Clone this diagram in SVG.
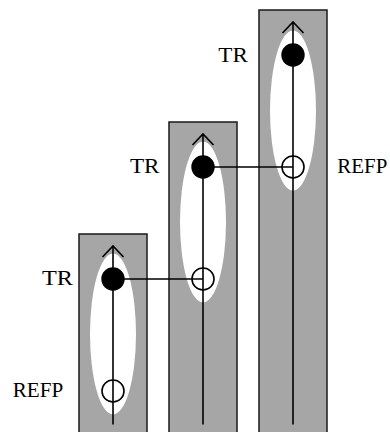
<svg xmlns="http://www.w3.org/2000/svg" width="390" height="432" viewBox="0 0 390 432">
<style>
.col{fill:#a6a6a6;stroke:#1a1a1a;stroke-width:1.5}
.ell{fill:#ffffff;stroke:none}
.ax{fill:none;stroke:#000;stroke-width:1.6}
.tr{fill:#000;stroke:none}
.rp{fill:none;stroke:#000;stroke-width:1.6}
.lbl{font-family:"Liberation Serif","Times New Roman",serif;font-size:20px;fill:#000}
.conn{fill:none;stroke:#000;stroke-width:1.3}
</style>
<rect width="390" height="432" fill="#ffffff"/>
<g id="col1">
<rect class="col" x="79" y="234" width="68" height="210"/>
<ellipse class="ell" cx="113" cy="334" rx="23" ry="80.5"/>
<path class="ax" d="M113,424.5 V246 M102.5,257 L113,246 L123.5,257"/>
</g>
<g id="col2">
<rect class="col" x="169" y="122" width="68" height="322"/>
<ellipse class="ell" cx="203" cy="222" rx="23" ry="80.5"/>
<path class="ax" d="M203,424.5 V134 M192.5,145 L203,134 L213.5,145"/>
</g>
<g id="col3">
<rect class="col" x="259" y="10" width="68" height="434"/>
<ellipse class="ell" cx="293" cy="110.5" rx="23" ry="80"/>
<path class="ax" d="M293,424.5 V22 M282.5,33 L293,22 L303.5,33"/>
</g>
<g id="connectors">
<line class="conn" x1="113" y1="279" x2="203" y2="279"/>
<line class="conn" x1="203" y1="167" x2="293" y2="167"/>
</g>
<g id="tr1">
<circle class="tr" cx="113" cy="279" r="11.7"/>
<text class="lbl" x="42" y="284.5" textLength="31" lengthAdjust="spacingAndGlyphs">TR</text>
</g>
<g id="refp1">
<circle class="rp" cx="113" cy="391" r="11"/>
<text class="lbl" x="12.7" y="397.3" textLength="50.5" lengthAdjust="spacingAndGlyphs">REFP</text>
</g>
<g id="tr2">
<circle class="tr" cx="203" cy="167" r="11.7"/>
<text class="lbl" x="130" y="173" textLength="29.5" lengthAdjust="spacingAndGlyphs">TR</text>
</g>
<g id="refp2">
<circle class="rp" cx="203" cy="279" r="11"/>
</g>
<g id="tr3">
<circle class="tr" cx="293" cy="55" r="11.7"/>
<text class="lbl" x="218.3" y="61.7" textLength="29.5" lengthAdjust="spacingAndGlyphs">TR</text>
</g>
<g id="refp3">
<circle class="rp" cx="293" cy="167" r="11"/>
<text class="lbl" x="337.3" y="173.3" textLength="50" lengthAdjust="spacingAndGlyphs">REFP</text>
</g>
</svg>
